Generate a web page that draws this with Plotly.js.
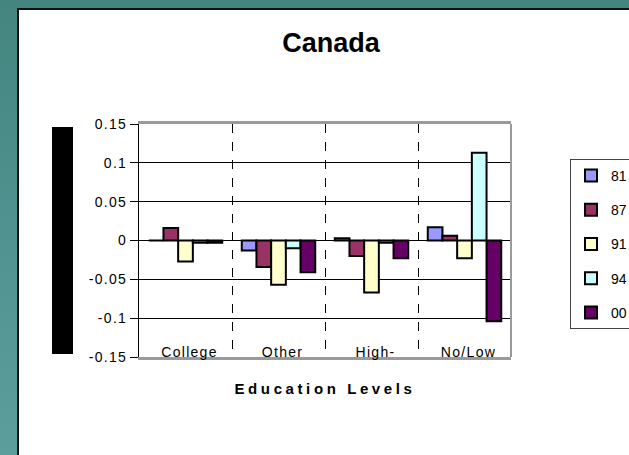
<!DOCTYPE html>
<html>
<head>
<meta charset="utf-8">
<script src="https://cdn.plot.ly/plotly-3.0.1.min.js"></script>
<style>
  html, body { margin: 0; padding: 0; }
  body { width: 629px; height: 455px; position: relative; overflow: hidden;
         background: linear-gradient(to bottom, #44857f 0%, #4f928f 50%, #5b9e9c 100%); }
  #panel { position: absolute; left: 17px; top: 8px; width: 612px; height: 447px;
           background: #ffffff; border-left: 2px solid #111; border-top: 2px solid #111; box-sizing: border-box; }
  #chart { position: absolute; left: 0; top: 0; width: 629px; height: 455px; }
  .xtick text, .ytick text { letter-spacing: 1.3px; }
  .g-xtitle text { letter-spacing: 3.6px; }
</style>
</head>
<body>
<div id="panel"></div>
<div id="chart"></div>
<script>
const categories = ['College', 'Other', 'High-', 'No/Low'];
const seriesNames = ['81', '87', '91', '94', '00'];
const s81 = [0, -0.013, 0.003, 0.017];
const s87 = [0.016, -0.034, -0.020, 0.006];
const s91 = [-0.027, -0.057, -0.067, -0.023];
const s94 = [-0.003, -0.010, -0.003, 0.113];
const s00 = [-0.003, -0.041, -0.023, -0.104];
const yTickVals = [-0.15, -0.1, -0.05, 0, 0.05, 0.1, 0.15];
const yTickText = ['-0.15', '-0.1', '-0.05', '0', '0.05', '0.1', '0.15'];

const colors = ['#9999FF', '#993366', '#FFFFCC', '#CCFFFF', '#660066'];
const allSeries = [s81, s87, s91, s94, s00];

const FONT = '"Liberation Sans", Arial, sans-serif';

const traces = allSeries.map((vals, i) => ({
  type: 'bar',
  name: seriesNames[i],
  x: categories,
  y: vals,
  legendgroup: 'g' + i,
  marker: { color: colors[i], line: { color: '#000000', width: 2 } },
  hoverinfo: 'skip'
}));

const layout = {
  width: 629,
  height: 455,
  margin: { l: 139, r: 118, t: 124, b: 98 },
  paper_bgcolor: 'rgba(0,0,0,0)',
  plot_bgcolor: '#ffffff',
  barmode: 'group',
  bargap: 0.21,
  bargroupgap: 0,
  font: { family: FONT, size: 14, color: '#000000' },
  title: {
    text: 'Canada',
    font: { family: FONT, size: 27, color: '#000000', weight: 'bold' },
    x: 331 / 629, xanchor: 'center', xref: 'container',
    y: 1 - 43 / 455, yanchor: 'middle', yref: 'container'
  },
  xaxis: {
    type: 'category',
    categoryorder: 'array',
    categoryarray: categories,
    tickson: 'boundaries',
    showgrid: true,
    gridcolor: '#000000',
    gridwidth: 1,
    griddash: 'dash',
    ticks: '',
    showline: true,
    linecolor: '#9a9a9a',
    linewidth: 3,
    mirror: true,
    zeroline: false,
    ticklabelstandoff: -20,
    ticklabelshift: 4,
    tickfont: { family: FONT, size: 14, color: '#000000' },
    title: {
      text: 'Education Levels',
      font: { family: FONT, size: 15, color: '#000000', weight: 'bold' },
      standoff: 25
    },
    automargin: false,
    fixedrange: true
  },
  yaxis: {
    range: [-0.15, 0.15],
    tickvals: yTickVals,
    ticktext: yTickText,
    ticks: 'outside',
    ticklen: 8,
    tickcolor: '#000000',
    tickwidth: 1,
    showgrid: true,
    gridcolor: '#000000',
    gridwidth: 1,
    zeroline: true,
    zerolinecolor: '#000000',
    zerolinewidth: 1,
    showline: true,
    linecolor: '#000000',
    linewidth: 1,
    tickfont: { family: FONT, size: 14, color: '#000000' },
    automargin: false,
    fixedrange: true
  },
  shapes: [
    { type: 'line', xref: 'paper', yref: 'paper', x0: 1, x1: 1, y0: 0, y1: 1,
      line: { color: '#9a9a9a', width: 2 } },
    { type: 'rect', xref: 'paper', yref: 'paper',
      x0: (52 - 139) / 372, x1: (73 - 139) / 372,
      y0: (357 - 354) / 233, y1: (357 - 127) / 233,
      fillcolor: '#000000', line: { width: 0 } }
  ],
  showlegend: true,
  legend: {
    xref: 'container', yref: 'container',
    x: 570 / 629, xanchor: 'left',
    y: 1 - 159 / 455, yanchor: 'top',
    bgcolor: '#ffffff',
    bordercolor: '#444444',
    borderwidth: 1,
    font: { family: FONT, size: 14, color: '#000000' },
    tracegroupgap: 13,
    itemwidth: 30,
    entrywidth: 70,
    traceorder: 'grouped'
  }
};

Plotly.newPlot('chart', traces, layout, { displayModeBar: false, staticPlot: true });
</script>
</body>
</html>
